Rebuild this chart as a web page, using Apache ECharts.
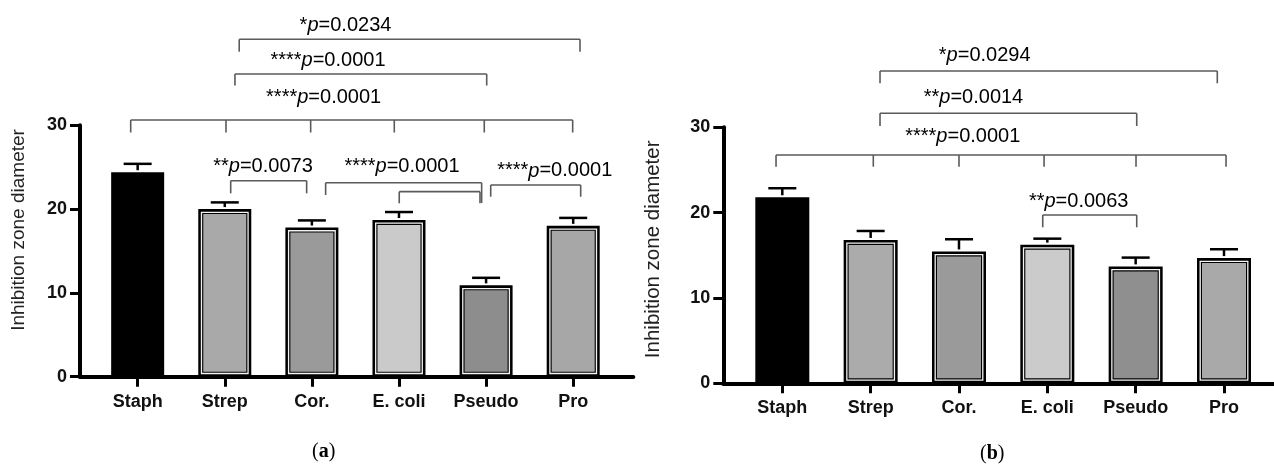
<!DOCTYPE html>
<html><head><meta charset="utf-8">
<script src="https://cdn.jsdelivr.net/npm/echarts@6/dist/echarts.min.js"></script>
<style>html,body{margin:0;padding:0;background:#fff}#c{width:1274px;height:467px}</style>
</head><body><div id="c"></div>
<script>
// ---------------- data ----------------
const categories = ['Staph', 'Strep', 'Cor.', 'E. coli', 'Pseudo', 'Pro'];
const yTickValues = [0, 10, 20, 30];
const yAxisTitle = 'Inhibition zone diameter';
const panelLabels = ['a', 'b'];

const meansA = [24.4, 20.0, 17.8, 18.7, 10.9, 18.0];
const errA   = [1.0, 0.8, 0.85, 0.95, 0.9, 0.95];
const meansB = [21.8, 16.8, 15.45, 16.25, 13.7, 14.67];
const errB   = [1.06, 1.05, 1.43, 0.7, 1.03, 1.04];

const pTextA = [
  ['*', '0.0234'], ['****', '0.0001'], ['****', '0.0001'],
  ['**', '0.0073'], ['****', '0.0001'], ['****', '0.0001']
];
const pTextB = [
  ['*', '0.0294'], ['**', '0.0014'], ['****', '0.0001'], ['**', '0.0063']
];

// ---------------- styles / layout ----------------
const fillA = ['#000000', '#a9a9a9', '#9a9a9a', '#cacaca', '#8d8d8d', '#a7a7a7'];
const fillB = ['#000000', '#ababab', '#9a9a9a', '#cbcbcb', '#8f8f8f', '#a9a9a9'];
const SANS = '"Liberation Sans", Arial, Helvetica, sans-serif';
const SERIF = '"Liberation Serif", "Times New Roman", serif';

// bracket geometry (x in category units, y in axis units)
const bracketsA = [
  { xs: [1.166, 5.078], y: 40.26, b: [38.78, 38.78] },
  { xs: [1.117, 4.007], y: 36.12, b: [34.75, 34.75] },
  { xs: [-0.08, 1.014, 1.986, 2.946, 3.979, 4.994], y: 30.63, b: [29.14, 29.14, 29.14, 29.14, 29.14, 29.14] },
  { xs: [1.068, 1.940], y: 23.39, b: [21.88, 21.88] },
  { xs: [2.158, 3.949], y: 23.15, b: [21.68, 20.73] },
  { xs: [3.003, 3.930], y: 22.08, b: [20.69, 20.69] },
  { xs: [4.053, 5.086], y: 22.88, b: [21.48, 21.48] }
];
const labelPosA = [[2.386, 41.97], [2.185, 37.79], [2.135, 33.29], [1.439, 25.06], [3.034, 25.06], [4.788, 24.55]];
const bracketsB = [
  { xs: [1.106, 4.924], y: 36.6, b: [35.16, 35.16] },
  { xs: [1.106, 4.012], y: 31.64, b: [30.15, 30.15] },
  { xs: [-0.071, 1.03, 2.0, 2.963, 4.004, 5.023], y: 26.76, b: [25.38, 25.38, 25.38, 25.38, 25.38, 25.38] },
  { xs: [2.948, 4.012], y: 19.72, b: [18.28, 18.28] }
];
const labelPosB = [[2.291, 38.47], [2.164, 33.52], [2.043, 28.9], [3.355, 21.28]];

const chart = echarts.init(document.getElementById('c'), null, { renderer: 'canvas' });

function xAxisCfg(gi, min, max) {
  return {
    gridIndex: gi, type: 'value', min: min, max: max,
    axisLine: { show: true, onZero: false, lineStyle: { color: '#000', width: 4 } },
    axisTick: { show: true, customValues: [0, 1, 2, 3, 4, 5], length: 10, lineStyle: { color: '#000', width: 3 } },
    axisLabel: {
      show: true, customValues: [0, 1, 2, 3, 4, 5], margin: 16,
      formatter: v => categories[Math.round(v)] || '',
      fontFamily: SANS, fontWeight: 'bold', fontSize: 18, color: '#111'
    },
    splitLine: { show: false }
  };
}
function yAxisCfg(gi, gap, nameSize, namePad) {
  return {
    gridIndex: gi, type: 'value', min: 0, max: 30, interval: 10,
    name: yAxisTitle, nameLocation: 'middle', nameGap: gap, nameRotate: 90,
    nameTextStyle: { fontFamily: SANS, fontSize: nameSize, color: '#222', padding: [0, 0, 0, namePad] },
    axisLine: { show: true, onZero: false, lineStyle: { color: '#000', width: 4 } },
    axisTick: { show: true, length: 10, lineStyle: { color: '#000', width: 3 } },
    axisLabel: { margin: 13, fontFamily: SANS, fontWeight: 'bold', fontSize: 18, color: '#111',
      customValues: yTickValues },
    splitLine: { show: false }
  };
}

function barSeries(gi, means, fills, bw) {
  return {
    type: 'bar', xAxisIndex: gi, yAxisIndex: gi, barWidth: bw, z: 2,
    data: means.map((v, i) => ({
      value: [i, v],
      itemStyle: { color: fills[i], borderColor: '#000', borderWidth: 5 }
    })),
    silent: true, animation: false
  };
}
function innerLineSeries(gi, means, bw) {
  return {
    type: 'custom', xAxisIndex: gi, yAxisIndex: gi, z: 3, clip: false, silent: true, animation: false,
    data: means.map((v, i) => [i, v]),
    encode: { x: 0, y: 1 },
    renderItem: function (params, api) {
      if (params.dataIndex === 0) return null;
      const top = api.coord([api.value(0), api.value(1)]);
      const bot = api.coord([api.value(0), 0]);
      const hw = bw / 2 - 3.2;
      return {
        type: 'rect',
        shape: { x: top[0] - hw, y: top[1] + 3.2, width: hw * 2, height: bot[1] - top[1] - 6.4 },
        style: { fill: null, stroke: '#f4f4f4', lineWidth: 1.3 }
      };
    }
  };
}
function errSeries(gi, means, errs) {
  return {
    type: 'custom', xAxisIndex: gi, yAxisIndex: gi, z: 4, clip: false, silent: true, animation: false,
    data: means.map((v, i) => [i, v, v + errs[i]]),
    encode: { x: 0, y: [1, 2] },
    renderItem: function (params, api) {
      const p0 = api.coord([api.value(0), api.value(1)]);
      const p1 = api.coord([api.value(0), api.value(2)]);
      const st = { stroke: '#000', lineWidth: 2.5 };
      return {
        type: 'group', children: [
          { type: 'line', shape: { x1: p0[0], y1: p0[1] - 2, x2: p1[0], y2: p1[1] }, style: st },
          { type: 'line', shape: { x1: p1[0] - 14, y1: p1[1], x2: p1[0] + 14, y2: p1[1] }, style: st }
        ]
      };
    }
  };
}
function bracketSeries(gi, list) {
  return {
    type: 'custom', xAxisIndex: gi, yAxisIndex: gi, z: 5, clip: false, silent: true, animation: false,
    data: list.map(b => [b.xs[0], b.y]),
    encode: { x: 0, y: 1 },
    renderItem: function (params, api) {
      const b = list[params.dataIndex];
      const yH = api.coord([0, b.y])[1];
      const xs = b.xs.map(x => api.coord([x, 0])[0]);
      const st = { stroke: '#5a5a5a', lineWidth: 1.6 };
      const ch = [{ type: 'line', shape: { x1: xs[0], y1: yH, x2: xs[xs.length - 1], y2: yH }, style: st }];
      xs.forEach((x, k) => {
        const yb = api.coord([0, b.b[k]])[1];
        ch.push({ type: 'line', shape: { x1: x, y1: yH, x2: x, y2: yb }, style: st });
      });
      return { type: 'group', children: ch };
    }
  };
}
function pLabelSeries(gi, texts, pos) {
  return {
    type: 'custom', xAxisIndex: gi, yAxisIndex: gi, z: 6, clip: false, silent: true, animation: false,
    data: pos.map(p => [p[0], p[1]]),
    encode: { x: 0, y: 1 },
    renderItem: function (params, api) {
      const t = texts[params.dataIndex];
      const c = api.coord([api.value(0), api.value(1)]);
      return {
        type: 'text',
        style: {
          x: c[0], y: c[1],
          text: '{n|' + t[0] + '}{i|p}{n|=' + t[1] + '}',
          align: 'center', verticalAlign: 'middle',
          textAlign: 'center', textVerticalAlign: 'middle',
          rich: {
            n: { fontFamily: SANS, fontSize: 20, color: '#1a1a1a' },
            i: { fontFamily: SANS, fontSize: 20, fontStyle: 'italic', color: '#1a1a1a' }
          }
        }
      };
    }
  };
}
function panelLabel(txt, left, top) {
  return {
    type: 'text', left: left, top: top,
    style: {
      text: '{r|(}{b|' + txt + '}{r|)}',
      rich: {
        r: { fontFamily: SERIF, fontSize: 20, color: '#222' },
        b: { fontFamily: SERIF, fontSize: 20, fontWeight: 'bold', color: '#222' }
      }
    }
  };
}

const option = {
  backgroundColor: '#ffffff',
  animation: false,
  grid: [
    { left: 80, top: 125.3, width: 553.3, height: 251.4 },
    { left: 723.3, top: 127.3, width: 550.7, height: 256 }
  ],
  xAxis: [xAxisCfg(0, -0.662, 5.69), xAxisCfg(1, -0.668, 5.566)],
  yAxis: [yAxisCfg(0, 52, 19, 42), yAxisCfg(1, 59, 20.5, 12)],
  graphic: [panelLabel(panelLabels[0], 312, 442), panelLabel(panelLabels[1], 980, 444)],
  series: [
    barSeries(0, meansA, fillA, 53), innerLineSeries(0, meansA, 53), errSeries(0, meansA, errA),
    bracketSeries(0, bracketsA), pLabelSeries(0, pTextA, labelPosA),
    barSeries(1, meansB, fillB, 54), innerLineSeries(1, meansB, 54), errSeries(1, meansB, errB),
    bracketSeries(1, bracketsB), pLabelSeries(1, pTextB, labelPosB)
  ]
};
chart.setOption(option);
</script>
</body></html>
